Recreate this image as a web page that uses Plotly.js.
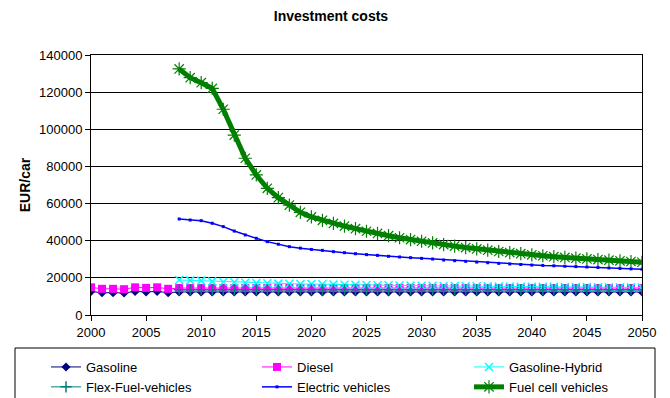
<!DOCTYPE html>
<html>
<head>
<meta charset="utf-8">
<script src="https://cdn.plot.ly/plotly-3.0.1.min.js"></script>
<style>
  html, body { margin: 0; padding: 0; background: #fff; }
  #chart { width: 670px; height: 398px; }
</style>
</head>
<body>
<div id="chart"></div>
<script>
// Years covered by the projection
const years = [];
for (let y = 2000; y <= 2050; y++) years.push(y);

// Investment cost per car (EUR), one value per year; null = no data for that year
const gasoline = [12700, 12000, 12000, 11850, 12700, 12400, 12700, 12000,
  12400, 12400, 12400, 12400, 12400, 12400, 12400, 12400, 12400, 12400,
  12400, 12400, 12400, 12400, 12400, 12400, 12400, 12400, 12400, 12400,
  12400, 12400, 12400, 12400, 12400, 12400, 12400, 12400, 12400, 12400,
  12400, 12400, 12400, 12400, 12400, 12400, 12400, 12400, 12400, 12400,
  12400, 12400, 12400];

const diesel = [14900, 14100, 14100, 13900, 14900, 14600, 14900, 14100,
  14500, 14500, 14500, 14500, 14500, 14500, 14500, 14500, 14500, 14500,
  14500, 14500, 14500, 14500, 14500, 14500, 14500, 14500, 14500, 14500,
  14500, 14500, 14500, 14500, 14500, 14500, 14500, 14500, 14500, 14500,
  14500, 14500, 14500, 14500, 14500, 14500, 14500, 14500, 14500, 14500,
  14500, 14500, 14500];

const gasolineHybrid = [null, null, null, null, null, null, null, null,
  18850, 18650, 18500, 18100, 17800, 17600, 17400, 17230, 17050, 16900,
  16850, 16700, 16650, 16520, 16450, 16330, 16250, 16150, 16050, 15980,
  15900, 15830, 15760, 15700, 15640, 15580, 15520, 15460, 15410, 15360,
  15310, 15260, 15210, 15170, 15130, 15090, 15050, 15010, 14970, 14940,
  14910, 14880, 14850];

const flexFuel = [null, null, null, null, null, null, null, null,
  13600, 13600, 13600, 13600, 13600, 13600, 13600, 13600, 13600, 13600,
  13600, 13600, 13600, 13600, 13600, 13600, 13600, 13600, 13600, 13600,
  13600, 13600, 13600, 13600, 13600, 13600, 13600, 13600, 13600, 13600,
  13600, 13600, 13600, 13600, 13600, 13600, 13600, 13600, 13600, 13600,
  13600, 13600, 13600];

const electric = [null, null, null, null, null, null, null, null,
  51700, 51150, 50800, 49400, 47600, 45200, 43100, 41300, 39500, 38100,
  36800, 36000, 35300, 34800, 34100, 33550, 33000, 32500, 32100, 31600,
  31230, 30870, 30500, 30150, 29600, 29250, 28900, 28500, 28150, 27800,
  27500, 27200, 26900, 26700, 26500, 26250, 26050, 25850, 25600, 25350,
  25100, 24850, 24600];

const fuelCell = [null, null, null, null, null, null, null, null,
  132500, 127800, 125100, 122000, 110800, 96900, 84400, 75400, 68200, 63200,
  59200, 55300, 52800, 51000, 49300, 47900, 46500, 45100, 43900, 42700,
  41600, 40600, 39700, 38800, 37900, 37100, 36300, 35600, 34900, 34200,
  33600, 33000, 32400, 31900, 31400, 31000, 30600, 30200, 29850, 29500,
  29150, 28800, 28400];

const FONT = 'Arial, "Liberation Sans", sans-serif';

function series(name, values, color, lineWidth, symbol, size, markerLine, legendId) {
  return {
    type: 'scatter',
    mode: 'lines+markers',
    name: name,
    x: years,
    y: values,
    legend: legendId,
    line: { color: color, width: lineWidth },
    marker: {
      symbol: symbol,
      size: size,
      color: color,
      line: { color: color, width: markerLine }
    },
    hoverinfo: 'x+y+name'
  };
}

const traces = [
  series('Gasoline', gasoline, '#000080', 1, 'diamond', 7, 0, 'legend'),
  series('Diesel', diesel, '#ff00ff', 1, 'square', 8, 0, 'legend2'),
  series('Gasoline-Hybrid', gasolineHybrid, '#00ffff', 1, 'x-thin-open', 8, 1.5, 'legend3'),
  series('Flex-Fuel-vehicles', flexFuel, '#008080', 1, 'cross-thin-open', 8, 1.5, 'legend'),
  series('Electric vehicles', electric, '#0000ff', 1.5, 'square', 3, 0, 'legend2'),
  series('Fuel cell vehicles', fuelCell, '#008000', 5, 'asterisk-open', 11, 1.2, 'legend3')
];

// plot-area pixel frame and helpers to turn pixels into paper coordinates
const plotLeft = 91, plotRight = 642, plotTop = 55, plotBottom = 315;
const pw = plotRight - plotLeft, ph = plotBottom - plotTop;
const px = v => (v - plotLeft) / pw;
const py = v => (plotBottom - v) / ph;

// three legend columns, two entries each
function legendColumn(leftPx) {
  return {
    orientation: 'v',
    x: px(leftPx), xanchor: 'left',
    y: py(352), yanchor: 'top',
    font: { family: FONT, size: 13, color: '#000' },
    bgcolor: 'rgba(0,0,0,0)',
    borderwidth: 0,
    traceorder: 'normal',
    tracegroupgap: 0
  };
}

const layout = {
  width: 670,
  height: 398,
  paper_bgcolor: '#ffffff',
  plot_bgcolor: '#ffffff',
  margin: { l: plotLeft, r: 670 - plotRight, t: plotTop, b: 398 - plotBottom, autoexpand: false },
  font: { family: FONT, size: 13, color: '#000' },
  title: {
    text: '<b>Investment costs</b>',
    font: { family: FONT, size: 14, color: '#000' },
    x: 0.494, xanchor: 'center',
    y: 1 - 16 / 398, yanchor: 'middle'
  },
  xaxis: {
    range: [2000, 2050],
    tick0: 2000, dtick: 5,
    ticks: 'outside', ticklen: 5, tickcolor: '#000', tickwidth: 1,
    showline: true, linecolor: '#000', linewidth: 1, mirror: true,
    showgrid: false, zeroline: false,
    tickfont: { family: FONT, size: 13, color: '#000' }
  },
  yaxis: {
    range: [0, 140000],
    tick0: 0, dtick: 20000,
    ticks: 'outside', ticklen: 5, tickcolor: '#000', tickwidth: 1,
    showline: true, linecolor: '#000', linewidth: 1, mirror: true,
    showgrid: true, gridcolor: '#000', gridwidth: 1,
    zeroline: false,
    tickformat: 'd',
    tickfont: { family: FONT, size: 13, color: '#000' },
    title: {
      text: '<b>EUR/car</b>',
      font: { family: FONT, size: 14, color: '#000' },
      standoff: 5
    }
  },
  showlegend: true,
  legend: legendColumn(46),
  legend2: legendColumn(257),
  legend3: legendColumn(469),
  shapes: [{
    // legend frame, running past the lower edge of the figure
    type: 'rect', xref: 'paper', yref: 'paper',
    x0: px(15), x1: px(655), y0: py(348), y1: py(420),
    line: { color: '#000', width: 1 },
    fillcolor: 'rgba(0,0,0,0)', layer: 'below'
  }]
};

Plotly.newPlot('chart', traces, layout, { displayModeBar: false, staticPlot: true });
</script>
</body>
</html>
